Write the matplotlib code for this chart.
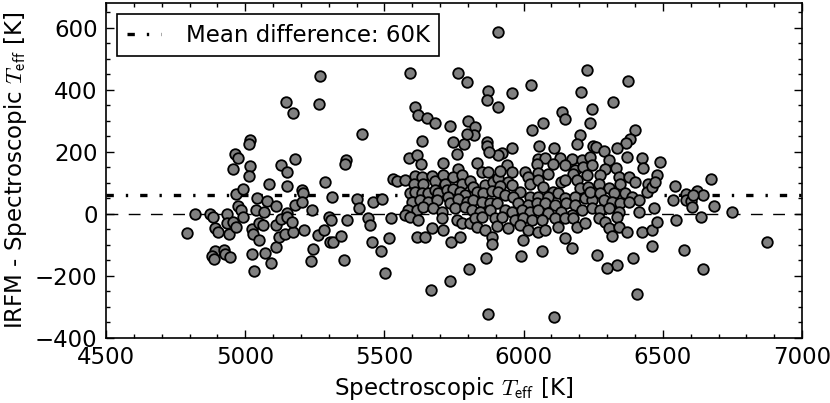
import matplotlib
matplotlib.use("Agg")
import matplotlib.pyplot as plt
from matplotlib.ticker import MultipleLocator

plt.rcParams['mathtext.fontset'] = 'cm'

# Spectroscopic Teff [K] and IRFM - spectroscopic difference [K]
teff_spec = [
    # cool stars (< 5300 K)
    4792, 4820, 4874, 4886, 4892, 4901, 4892, 4882, 4888, 4924, 4928, 4945,
    4936, 4934, 4942, 4955, 4967, 4957, 4964, 4973, 4966, 4991, 4975, 4984,
    4993, 5017, 5014, 5017, 5012, 5043, 5039, 5023, 5029, 5051, 5023, 5032,
    5051, 5065, 5067, 5077, 5084, 5071, 5093, 5110, 5111, 5111, 5123, 5128,
    5127, 5151, 5151, 5147, 5173, 5180, 5149, 5151, 5143, 5170, 5167, 5180,
    5203, 5207, 5204, 5211, 5240, 5260, 5245, 5235, 5266, 5287, 5283, 5268,
    # 5300 - 5560 K
    5311, 5302, 5308, 5305, 5316, 5344, 5355, 5361, 5358, 5367, 5400, 5409,
    5421, 5440, 5448, 5460, 5490, 5457, 5487, 5502, 5524, 5517, 5530, 5544,
    # outliers 5560 - 5810 K
    5610, 5622, 5652, 5682, 5634, 5736, 5748, 5786, 5738, 5736, 5667, 5804,
    5592, 5766, 5795,
    # upper part 5800 - 6400 K
    5909, 5871, 5867, 5907, 5959, 6027, 6227, 6206, 6245, 6139, 6149, 6068,
    6031, 6238, 6203, 6191, 6250, 6110, 6056, 5957, 5924, 5909, 5867, 5870,
    5876, 5801, 5825, 5823, 5798, 6374, 6322, 6400, 6382, 6368, 6337, 6260,
    6289,
    # dense core 5556 - 5915 K
    5588, 5616, 5630, 5712, 5759, 5765, 5831, 5849, 5873, 5574, 5610, 5606,
    5634, 5640, 5670, 5682, 5712, 5718, 5748, 5777, 5777, 5807, 5819, 5861,
    5891, 5909, 5592, 5610, 5634, 5658, 5682, 5694, 5724, 5748, 5771, 5789,
    5831, 5855, 5885, 5598, 5628, 5658, 5688, 5730, 5736, 5765, 5795, 5819,
    5849, 5879, 5903, 5586, 5616, 5640, 5676, 5706, 5753, 5789, 5813, 5843,
    5879, 5574, 5592, 5622, 5706, 5759, 5777, 5807, 5825, 5849, 5897, 5670,
    5712, 5831, 5861, 5903, 5616, 5646, 5771, 5885,
    # dense core 5915 - 6257 K
    6053, 6077, 6047, 6130, 6172, 6208, 6238, 5939, 5915, 5957, 6005, 6053,
    6089, 6106, 6148, 6184, 6214, 6244, 6178, 6226, 5945, 6017, 6023, 6053,
    6136, 6148, 6190, 5915, 5957, 5987, 6071, 6106, 6124, 6202, 6232, 5909,
    5933, 5963, 6023, 6053, 6089, 6148, 6184, 6220, 6244, 5981, 6017, 6047,
    6077, 6112, 6154, 6184, 5933, 5957, 5993, 6023, 6053, 6089, 6136, 6172,
    6208, 5921, 5969, 5999, 6029, 6065, 6112, 6148, 6178, 5945, 5987, 6017,
    6053, 6077, 6124, 6190, 6220,
    # dense core 6257 - 6472 K
    6305, 6371, 6424, 6430, 6293, 6331, 6275, 6341, 6377, 6401, 6448, 6269,
    6347, 6305, 6239, 6275, 6323, 6365, 6389, 6413, 6442, 6460, 6287, 6317,
    6347, 6377, 6245, 6275, 6305, 6341, 6413, 6468, 6269, 6293, 6335, 6305,
    6341, 6371, 6424, 6317, 6460,
    # lower outliers 5800 - 6200 K
    5864, 5888, 5991, 6065, 5999, 6149, 6175, 5873, 6110,
    # hot stars (> 6470 K)
    6490, 6480, 6472, 6672, 6545, 6535, 6584, 6582, 6602, 6604, 6624, 6643,
    6610, 6685, 6637, 6547, 6478, 6460, 6577, 6394, 6337, 6301, 6265, 6643,
    6408, 6750, 6873,
]
teff_diff = [
    -62, -1, 0, -11, -47, -58, -121, -135, -146, -115, -128, -138,
    0, -28, -64, -25, -41, 144, 192, 181, 64, 79, 27, 13,
    -9, 237, 227, 154, 122, 51, 13, -49, -64, -83, -128, -185,
    -30, -35, 6, 43, 96, -127, -157, -108, -36, 27, -75, -17,
    157, 136, 90, 360, 325, 177, 4, -11, -66, -57, -25, 30,
    77, 66, 38, -51, 13, -68, -113, -153, 353, 102, -53, 446,
    53, -11, -21, -92, -92, -70, -148, 175, 160, -19, 48, 20,
    257, -14, -35, 40, 48, -89, -121, -192, -14, -78, 111, 107,
    346, 318, 310, 293, 234, 285, 232, 225, -92, -217, -246, -177,
    455, 455, 424,
    585, 395, 368, 346, 391, 414, 464, 392, 339, 328, 305, 294,
    269, 293, 256, 225, 220, 213, 219, 211, 195, 189, 232, 218,
    200, 299, 280, 256, 257, 429, 361, 269, 241, 230, 214, 216,
    203,
    181, 189, 162, 164, 194, 146, 164, 136, 136, 109, 122, 98,
    119, 98, 122, 107, 125, 98, 119, 125, 98, 107, 87, 93,
    103, 117, 66, 71, 68, 68, 77, 66, 77, 79, 71, 61,
    71, 66, 75, 39, 45, 39, 45, 55, 34, 47, 39, 45,
    39, 36, 34, 13, 13, 23, 18, 7, 18, 23, 13, 7,
    13, -3, -9, -19, -14, -19, -28, -28, -14, -9, -14, -46,
    -52, -41, -52, -39, -75, -75, -73, -75,
    178, 181, 160, 181, 178, 175, 184, 157, 139, 136, 136, 132,
    128, 160, 157, 141, 152, 157, 130, 125, 104, 120, 98, 109,
    104, 109, 109, 90, 93, 72, 87, 72, 68, 82, 87, 72,
    61, 55, 55, 55, 55, 50, 55, 50, 45, 34, 29, 34,
    36, 29, 34, 29, 13, 7, 13, 7, 13, 2, 7, -3,
    13, -9, -19, -14, -19, -19, -14, -14, -14, -46, -36, -52,
    -57, -52, -43, -43, -30,
    173, 184, 181, 149, 146, 149, 125, 120, 120, 104, 98, 98,
    98, 82, 72, 66, 68, 66, 55, 45, 72, 87, 45, 39,
    36, 39, 18, 13, 18, 7, 7, 20, -14, -25, -9, -46,
    -41, -57, -57, -71, -52,
    -142, -97, -137, -119, -83, -78, -111, -322, -331,
    168, 125, 104, 111, 91, 45, 64, 45, 42, 21, 75, 61,
    62, 26, -10, -20, -26, -105, -117, -142, -164, -173, -132, -177,
    -257, 5, -89,
]
MEAN_DIFF = 60

fig = plt.figure(figsize=(8.3, 4.03), dpi=100)
ax = fig.add_axes([0.1277, 0.1613, 0.8386, 0.8313])

ax.axhline(0, color='k', ls=(0, (8.5, 7.5)), lw=1, zorder=1)
ax.axhline(MEAN_DIFF, color='k', ls=(0, (2.2, 3.6, 0.7, 3.6)), lw=2.4, zorder=1,
           label=f"Mean difference: {MEAN_DIFF}K")
ax.scatter(teff_spec, teff_diff, s=58, c='0.5', edgecolors='k',
           linewidths=1.3, zorder=3)

ax.set_xlim(4500, 7000)
ax.set_ylim(-400, 680)
ax.xaxis.set_major_locator(MultipleLocator(500))
ax.xaxis.set_minor_locator(MultipleLocator(100))
ax.yaxis.set_major_locator(MultipleLocator(200))
ax.yaxis.set_minor_locator(MultipleLocator(50))
ax.tick_params(which='both', direction='in', top=True, right=True,
               labelsize=16.5, width=1)
ax.tick_params(which='major', length=6, pad=6)
ax.tick_params(which='minor', length=3)
for sp in ax.spines.values():
    sp.set_linewidth(1.2)

ax.set_xlabel(r"Spectroscopic $T_{\mathsf{eff}}$ [K]", fontsize=16.5)
ax.set_ylabel(r"IRFM - Spectroscopic $T_{\mathsf{eff}}$ [K]", fontsize=16.5)

leg = ax.legend(loc='upper left', fontsize=16.5, fancybox=False, edgecolor='k',
                framealpha=1, handlelength=1.5, handletextpad=1.1,
                borderaxespad=0.5)
leg.get_frame().set_linewidth(1.2)

fig.savefig("out.png", dpi=100)
